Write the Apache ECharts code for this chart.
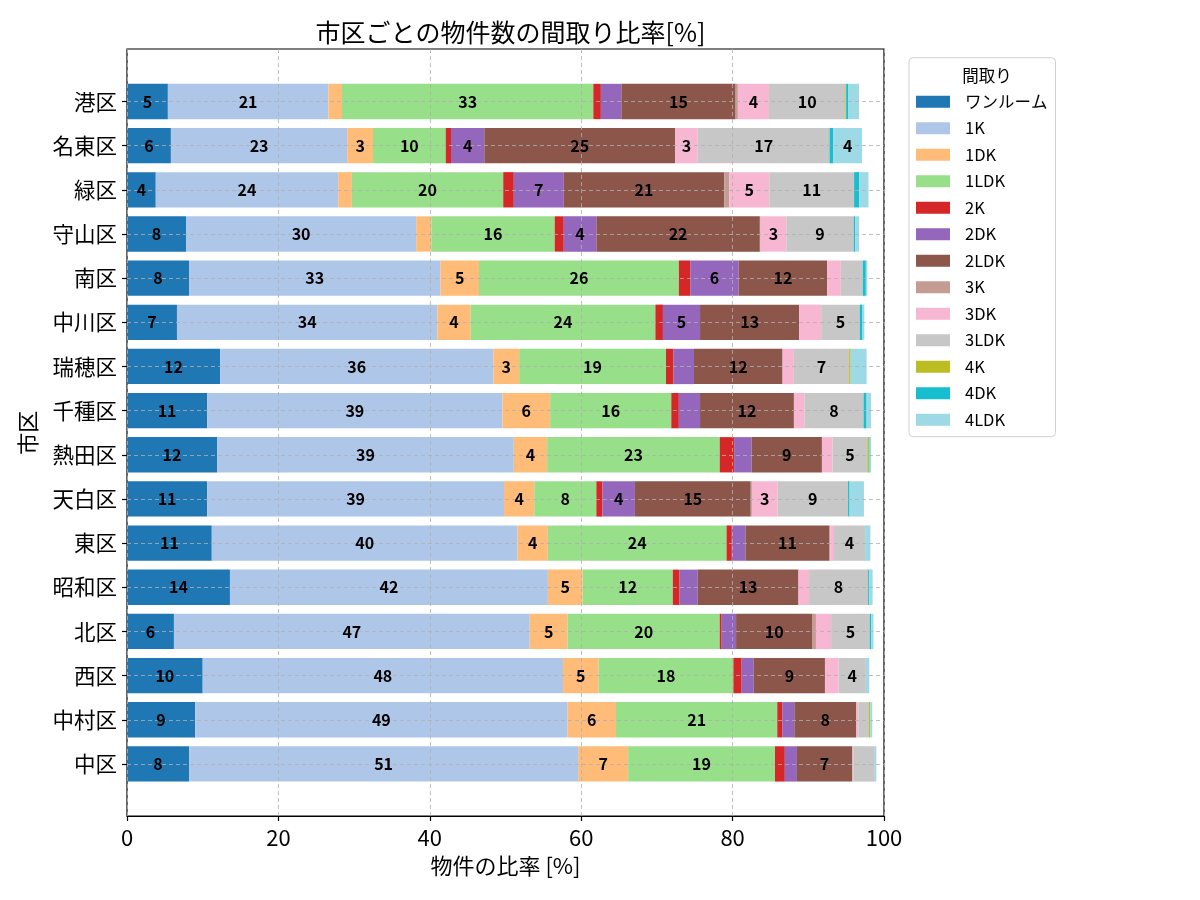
<!DOCTYPE html>
<html>
<head>
<meta charset="utf-8">
<script src="https://cdn.jsdelivr.net/npm/echarts@6/dist/echarts.min.js"></script>
<style>
  html, body { margin: 0; padding: 0; background: #fff; }
  #chart { width: 1200px; height: 900px; }
</style>
</head>
<body>
<div id="chart"></div>
<script>
// Districts, top to bottom
const categories = ['港区','名東区','緑区','守山区','南区','中川区','瑞穂区','千種区','熱田区','天白区','東区','昭和区','北区','西区','中村区','中区'];

// Layout types (legend order)
const layoutNames = ['ワンルーム','1K','1DK','1LDK','2K','2DK','2LDK','3K','3DK','3LDK','4K','4DK','4LDK'];

// Share of listings [%] per district (same order as categories)
const oneRoom = [5.4, 5.8, 3.8, 7.8, 8.2, 6.6, 12.3, 10.6, 11.9, 10.6, 11.2, 13.6, 6.2, 10.0, 9.0, 8.2];
const k1      = [21.2, 23.3, 24.1, 30.4, 33.2, 34.4, 36.1, 39.0, 39.2, 39.2, 40.4, 42.0, 47.0, 47.6, 49.2, 51.4];
const dk1     = [1.8, 3.4, 1.8, 2.0, 5.1, 4.4, 3.4, 6.3, 4.4, 4.0, 4.0, 4.6, 5.0, 4.7, 6.4, 6.6];
const ldk1    = [33.2, 9.6, 20.0, 16.3, 26.4, 24.4, 19.4, 16.0, 22.8, 8.2, 23.6, 11.9, 20.1, 17.8, 21.3, 19.4];
const k2      = [1.0, 0.7, 1.4, 1.2, 1.5, 1.0, 1.0, 1.0, 1.9, 0.8, 0.7, 0.9, 0.26, 1.1, 0.65, 1.3];
const dk2     = [2.7, 4.4, 6.6, 4.3, 6.4, 4.9, 2.7, 2.8, 2.3, 4.3, 1.8, 2.4, 1.9, 1.6, 1.6, 1.6];
const ldk2    = [15.1, 25.2, 21.2, 21.6, 11.7, 13.1, 11.7, 12.4, 9.3, 15.3, 11.1, 13.3, 10.1, 9.4, 8.2, 7.3];
const k3      = [0.3, 0, 0.65, 0.1, 0, 0, 0, 0, 0, 0.15, 0.1, 0, 0.45, 0, 0, 0.07];
const dk3     = [4.1, 3.0, 5.3, 3.4, 1.8, 2.9, 1.5, 1.4, 1.4, 3.4, 0.5, 1.4, 2.0, 1.8, 0.26, 0.07];
const ldk3    = [10.1, 17.4, 11.2, 8.9, 2.9, 5.1, 7.3, 7.8, 4.6, 9.3, 4.1, 7.8, 5.1, 3.6, 1.4, 2.85];
const k4      = [0.1, 0, 0, 0, 0, 0, 0.2, 0, 0.2, 0, 0, 0, 0, 0, 0.18, 0];
const dk4     = [0.3, 0.5, 0.7, 0.2, 0.4, 0.3, 0, 0.4, 0.1, 0.2, 0, 0.15, 0.2, 0, 0, 0];
const ldk4    = [1.4, 3.8, 1.2, 0.5, 0.2, 0.3, 2.1, 0.6, 0.2, 1.9, 0.7, 0.45, 0.3, 0.45, 0.26, 0.2];

const xTicks = [0, 20, 40, 60, 80, 100];

const seriesValues = [oneRoom, k1, dk1, ldk1, k2, dk2, ldk2, k3, dk3, ldk3, k4, dk4, ldk4];
const colors = ['#1f77b4','#aec7e8','#ffbb78','#98df8a','#d62728','#9467bd','#8c564b','#c49c94','#f7b6d2','#c7c7c7','#bcbd22','#17becf','#9edae5'];

const FONT = '"Noto Sans CJK JP", "Noto Sans", sans-serif';

const chart = echarts.init(document.getElementById('chart'), null, { renderer: 'canvas' });

// Coloured bars (drawn below the dashed grid lines)
const barSeries = layoutNames.map((name, i) => ({
  name: name,
  type: 'bar',
  stack: 'total',
  xAxisIndex: 0,
  yAxisIndex: 0,
  barWidth: '80%',
  barGap: '-100%',
  z: 2,
  data: seriesValues[i],
  itemStyle: { color: colors[i] },
  label: { show: false },
  emphasis: { disabled: true },
  animation: false
}));

// Same stacks again, transparent, carrying only the value labels above the grid lines
const labelSeries = layoutNames.map((name, i) => ({
  name: name + ' (label)',
  type: 'bar',
  stack: 'labels',
  xAxisIndex: 0,
  yAxisIndex: 0,
  barWidth: '80%',
  barGap: '-100%',
  z: 10,
  silent: true,
  data: seriesValues[i],
  itemStyle: { color: 'rgba(0,0,0,0)' },
  label: {
    show: true,
    position: 'inside',
    color: '#000',
    fontFamily: FONT,
    fontWeight: 'bold',
    fontSize: 16,
    formatter: p => (p.value >= 3 ? String(Math.round(p.value)) : '')
  },
  emphasis: { disabled: true },
  animation: false
}));

const option = {
  animation: false,
  color: colors,
  textStyle: { fontFamily: FONT, color: '#000' },
  title: [
    {
      text: '市区ごとの物件数の間取り比率[%]',
      left: 505.5,
      top: 15,
      textAlign: 'center',
      textStyle: { fontFamily: FONT, fontSize: 25, fontWeight: 'normal', color: '#000' }
    },
    {
      text: '間取り',
      left: 982,
      top: 62,
      textAlign: 'center',
      z: 10,
      textStyle: { fontFamily: FONT, fontSize: 16.5, fontWeight: 'normal', color: '#000' }
    }
  ],
  legend: {
    orient: 'vertical',
    left: 909,
    top: 57.7,
    padding: [35, 8, 8, 7],
    itemWidth: 34,
    itemHeight: 12,
    itemGap: 8.5,
    icon: 'rect',
    backgroundColor: '#fff',
    borderColor: '#d0d0d0',
    borderWidth: 1,
    borderRadius: 4,
    data: layoutNames,
    selectedMode: false,
    textStyle: { fontFamily: FONT, fontSize: 16.5, color: '#000', lineHeight: 18, padding: [0, 0, 0, 10] }
  },
  grid: [
    { left: 127, right: 316, top: 79.4, bottom: 114, containLabel: false },
    { left: 127, right: 316, top: 49, bottom: 84, containLabel: false, show: true, borderColor: '#000', borderWidth: 1.2, backgroundColor: 'transparent' }
  ],
  xAxis: [
    {
      gridIndex: 0, type: 'value', min: 0, max: 100, show: false
    },
    {
      gridIndex: 1, type: 'value', min: 0, max: 100, interval: 20, z: 5,
      name: '物件の比率 [%]', nameLocation: 'middle', nameGap: 39,
      nameTextStyle: { fontFamily: FONT, fontSize: 22, color: '#000' },
      axisLine: { show: true, onZero: false, lineStyle: { color: '#000', width: 1.2 } },
      axisTick: { show: true, length: 5, lineStyle: { color: '#000', width: 1.2 } },
      axisLabel: { fontFamily: FONT, fontSize: 22, color: '#000', margin: 11,
        customValues: xTicks },
      splitLine: { show: true, lineStyle: { color: '#b0b0b0', type: [4, 3], width: 0.8 } }
    }
  ],
  yAxis: [
    {
      gridIndex: 0, type: 'category', data: categories, inverse: true, z: 5,
      name: '市区', nameLocation: 'middle', nameGap: 88, nameRotate: 90,
      nameTextStyle: { fontFamily: FONT, fontSize: 22, color: '#000' },
      axisLine: { show: false },
      axisTick: { show: true, alignWithLabel: true, interval: 0, length: 5, lineStyle: { color: '#000', width: 1.2 } },
      axisLabel: { interval: 0, fontFamily: FONT, fontSize: 21.5, color: '#000', margin: 10 },
      splitLine: { show: true, interval: 0, alignWithLabel: true, lineStyle: { color: '#b0b0b0', type: [4, 3], width: 0.8 } }
    },
    {
      gridIndex: 1, type: 'value', min: 0, max: 1, show: false
    }
  ],
  series: barSeries.concat(labelSeries)
};

chart.setOption(option);
</script>
</body>
</html>
